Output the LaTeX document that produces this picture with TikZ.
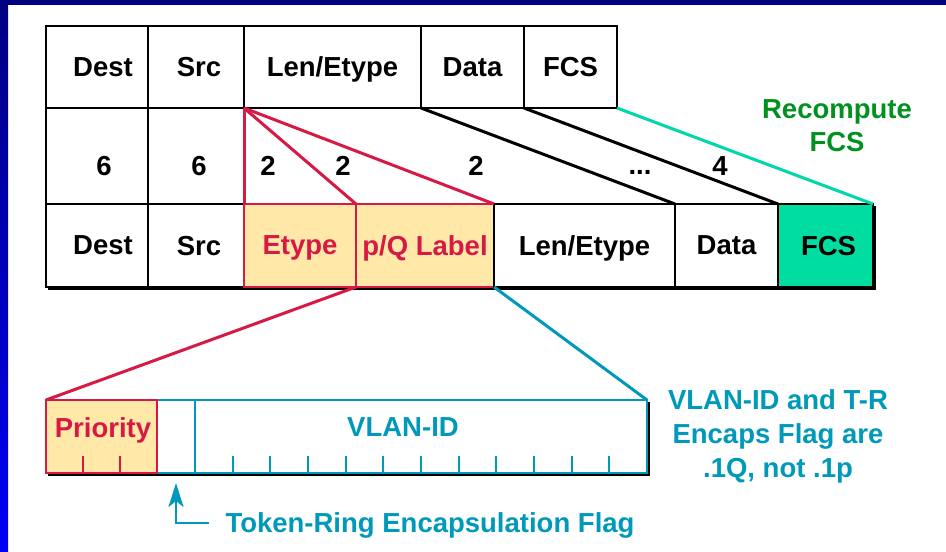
\documentclass[tikz,border=0pt]{standalone}
\usepackage{fontspec}
\setmainfont{Liberation Sans}
\usetikzlibrary{positioning}
\usetikzlibrary{arrows.meta}
\definecolor{navyc}{RGB}{0,0,128}
\definecolor{edgeblue}{RGB}{0,0,245}
\definecolor{tagred}{RGB}{215,25,70}
\definecolor{tagfill}{RGB}{255,232,168}
\definecolor{vlanblue}{RGB}{0,153,187}
\definecolor{fcsfill}{RGB}{0,221,160}
\definecolor{fcsline}{RGB}{0,215,170}
\definecolor{notegreen}{RGB}{0,145,30}

\begin{document}
\begin{tikzpicture}[x=1pt,y=-1pt,font=\fontsize{27.5}{33}\selectfont\bfseries,
  every node/.style={inner sep=0pt,outer sep=0pt,text depth=0pt},
  cell/.style={draw,line width=2.2pt},
  oldcell/.style={cell,minimum height=82pt},
  newcell/.style={cell,minimum height=83pt},
  fieldcell/.style={cell,minimum height=73pt},
  tagtext/.style={text=tagred},
  vlantext/.style={text=vlanblue},
  tagline/.style={draw=tagred,line width=3pt},
  vlanline/.style={draw=vlanblue,line width=3pt},
  shiftline/.style={draw,line width=3pt},
  shadowline/.style={draw,line width=2.5pt}]
% slide frame
\useasboundingbox (0,0) rectangle (946,552);
\fill[white] (0,0) rectangle (946,552);
\shade[top color=navyc,bottom color=edgeblue] (0,0) rectangle (8,552);
\fill[navyc] (0,0) rectangle (946,5);

% original frame
\node[oldcell,minimum width=102pt] (destA) at (97,67) {\hspace*{12pt}Dest};
\node[oldcell,minimum width=96pt] (srcA) at (196,67) {\hspace*{6pt}Src};
\node[oldcell,minimum width=177pt] (lenA) at (332.5,67) {Len/Etype};
\node[oldcell,minimum width=103pt] (dataA) at (472.5,67) {Data};
\node[oldcell,minimum width=93pt] (fcsA) at (570.5,67) {FCS};

% field sizes
\node[cell,minimum width=102pt,minimum height=96pt] (sizeDest) at (97,156) {};
\node[cell,minimum width=96pt,minimum height=96pt] (sizeSrc) at (196,156) {};
\foreach \x/\t/\n in {104/6/a,199/6/b,268/2/c,343/2/d,476/2/e,720/4/g}
  \node (size\n) at (\x,166) {\t};
\node (sizef) at (640,172) {...};

% tagged frame
\node[newcell,minimum width=102pt] (destB) at (97,245.5) {\hspace*{12pt}Dest};
\node[newcell,minimum width=96pt] (srcB) at (196,245.5) {\hspace*{6pt}Src};
\node[newcell,draw=tagred,fill=tagfill,tagtext,minimum width=112pt] (etype) at (300,245.5) {Etype};
\node[newcell,draw=tagred,fill=tagfill,tagtext,minimum width=138pt] (tag) at (425,245.5) {p/Q Label};
\node[newcell,minimum width=181pt] (lenB) at (584.5,245.5) {Len/Etype};
\node[newcell,minimum width=103pt] (dataB) at (726.5,245.5) {Data};
\node[newcell,fill=fcsfill,minimum width=95pt] (fcsB) at (825.5,245.5) {\hspace*{6pt}FCS};
\draw[shadowline] ([shift={(2pt,-2pt)}]destB.south west) -- ([shift={(2pt,-2pt)}]fcsB.south east)
  -- ([shift={(2pt,-2pt)}]fcsB.north east);

\draw[tagline] (lenA.south west) -- (etype.north west);
\draw[tagline] (lenA.south west) -- (tag.north west);
\draw[tagline] (lenA.south west) -- (tag.north east);
\draw[shiftline] (dataA.south west) -- (lenB.north east);
\draw[shiftline] (fcsA.south west) -- (dataB.north east);
\draw[draw=fcsline,line width=3pt] (fcsA.south east) -- (fcsB.north east);

\node[text=notegreen,align=center] (recompute) at (837,126) {Recompute\\FCS};

% tag control fields
\node[fieldcell,draw=vlanblue,minimum width=38pt] (cfi) at (176,436.5) {};
\node[fieldcell,draw=vlanblue,minimum width=452pt,
  label={[vlantext,anchor=north,yshift=-18pt,xshift=-18pt]north:VLAN-ID}] (vlan) at (421,436.5) {};
\node[fieldcell,draw=tagred,fill=tagfill,minimum width=111pt,
  label={[tagtext,anchor=north,yshift=-18pt,xshift=1.5pt]north:Priority}] (prio) at (101.5,436.5) {};
\foreach \i in {1,2}
  \draw[tagred,line width=2pt] ([xshift=\i*37pt]prio.south west) -- ++(0,-17);
\foreach \i in {1,...,11}
  \draw[vlanblue,line width=2pt] ([xshift=\i*37.67pt]vlan.south west) -- ++(0,-17);
\draw[shadowline] ([shift={(2pt,-2pt)}]prio.south west) -- ([shift={(2pt,-2pt)}]vlan.south east)
  -- ([shift={(2pt,-2pt)}]vlan.north east);

\draw[tagline] (tag.south west) -- (prio.north west);
\draw[vlanline] (tag.south east) -- (vlan.north east);

\node[vlantext] (tokflag) at (430,523) {Token-Ring Encapsulation Flag};
\draw[vlanblue,line width=2.5pt,-{Stealth[length=24pt,width=15pt,inset=6pt]}]
  ([xshift=-17pt]tokflag.west) -| ([yshift=-10pt]cfi.south);

\node[vlantext,align=center,anchor=north,font=\fontsize{27.5}{34}\selectfont\bfseries]
  (encapsnote) at (778,390) {VLAN-ID and T-R\\Encaps Flag are\\.1Q, not .1p};
\end{tikzpicture}
\end{document}
